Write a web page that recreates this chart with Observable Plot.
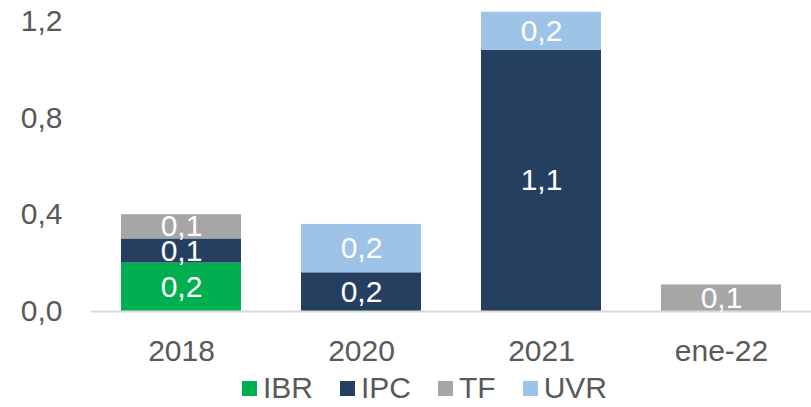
<!DOCTYPE html>
<html>
<head>
<meta charset="utf-8">
<script src="https://cdn.jsdelivr.net/npm/d3@7"></script>
<script src="https://cdn.jsdelivr.net/npm/@observablehq/plot@0.6"></script>
<style>
  html, body { margin: 0; padding: 0; background: #fff; }
  #chart { width: 811px; height: 407px; position: relative; font-family: 'Liberation Sans', Arial, sans-serif; }
  #legend { display: flex; align-items: center; height: 38px; line-height: 38px; margin-left: 242px; font-size: 30px; color: #595959; }
  #legend .item { display: flex; align-items: center; margin-right: 27px; }
  #legend .sw { width: 15px; height: 15px; margin-right: 6px; }
</style>
</head>
<body>
<div id="chart"></div>
<script>
const categories = ["2018", "2020", "2021", "ene-22"];
const seriesNames = ["IBR", "IPC", "TF", "UVR"];
const seriesColors = ["#00B050", "#253F60", "#A6A6A6", "#9DC3E6"];
const IBR = [0.20, null, null, null];
const IPC = [0.10, 0.16, 1.08, null];
const TF  = [0.10, null, null, 0.11];
const UVR = [null, 0.20, 0.157, null];
const yTicks = [0, 0.4, 0.8, 1.2];

const seriesValues = {IBR, IPC, TF, UVR};
const data = [];
categories.forEach((c, i) => {
  seriesNames.forEach(s => {
    const v = seriesValues[s][i];
    if (v != null) data.push({cat: c, series: s, value: v});
  });
});
const fmt = v => v.toFixed(1).replace(".", ",");

const plot = Plot.plot({
  width: 811,
  height: 369,
  marginLeft: 91,
  marginRight: 0,
  marginTop: 20.7,
  marginBottom: 58,
  style: {fontFamily: "'Liberation Sans', Arial, sans-serif", fontSize: "30px", color: "#595959", background: "white", overflow: "visible"},
  x: {domain: categories, paddingInner: 1/3, paddingOuter: 1/6, label: null, tickSize: 0, tickPadding: 28},
  y: {domain: [0, 1.2], ticks: yTicks, tickFormat: fmt, label: null, tickSize: 0, tickPadding: 29},
  color: {domain: seriesNames, range: seriesColors},
  marks: [
    Plot.barY(data, {x: "cat", y: "value", z: "series", fill: "series", order: seriesNames}),
    Plot.ruleY([0], {stroke: "#D9D9D9", strokeWidth: 2}),
    Plot.text(data, Plot.stackY({x: "cat", y: "value", z: "series", order: seriesNames, text: d => fmt(d.value), fill: "white", fontSize: 30}))
  ]
});
document.getElementById("chart").appendChild(plot);

const legend = document.createElement("div");
legend.id = "legend";
seriesNames.forEach((s, i) => {
  const item = document.createElement("div");
  item.className = "item";
  const sw = document.createElement("span");
  sw.className = "sw";
  sw.style.background = seriesColors[i];
  const t = document.createElement("span");
  t.textContent = s;
  item.appendChild(sw);
  item.appendChild(t);
  legend.appendChild(item);
});
document.getElementById("chart").appendChild(legend);
</script>
</body>
</html>
